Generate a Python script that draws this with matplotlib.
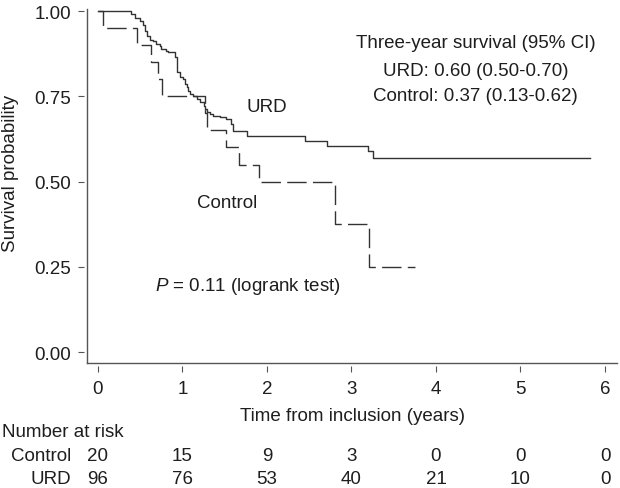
import matplotlib
matplotlib.use("Agg")
import matplotlib.pyplot as plt
from matplotlib.transforms import blended_transform_factory

plt.rcParams["font.family"] = ["Liberation Sans", "DejaVu Sans"]
plt.rcParams["mathtext.fontset"] = "custom"
plt.rcParams["mathtext.it"] = "Liberation Sans:italic"
plt.rcParams["mathtext.rm"] = "Liberation Sans"

# Kaplan-Meier steps (time in years, survival after the step)
urd_time = [0.00, 0.39, 0.44, 0.50, 0.53, 0.56, 0.58, 0.62, 0.65, 0.69,
            0.73, 0.75, 0.81, 0.83, 0.91, 0.93, 0.94, 0.97, 1.01, 1.03,
            1.05, 1.07, 1.09, 1.13, 1.17, 1.21, 1.25, 1.27, 1.29, 1.33,
            1.36, 1.44, 1.52, 1.58, 1.60, 1.76, 2.45, 2.71, 3.19, 3.26]
urd_surv = [1.000, 0.990, 0.980, 0.970, 0.960, 0.942, 0.928, 0.916, 0.913, 0.903,
            0.898, 0.889, 0.884, 0.879, 0.864, 0.840, 0.820, 0.806, 0.801, 0.786,
            0.776, 0.766, 0.757, 0.752, 0.742, 0.732, 0.722, 0.713, 0.703, 0.698,
            0.693, 0.688, 0.683, 0.669, 0.649, 0.633, 0.620, 0.605, 0.589, 0.568]
urd_end = 5.82

ctrl_time = [0.00, 0.055, 0.46, 0.63, 0.71, 0.76, 1.27, 1.29, 1.52, 1.67, 1.90, 2.80, 3.21]
ctrl_surv = [1.00, 0.95, 0.90, 0.85, 0.80, 0.75, 0.70, 0.65, 0.60, 0.55, 0.50, 0.375, 0.25]
ctrl_end = 3.75

risk_times = [0, 1, 2, 3, 4, 5, 6]
risk_ctrl = [20, 15, 9, 3, 0, 0, 0]
risk_urd = [96, 76, 53, 40, 21, 10, 0]

line_col = "#333333"
axis_col = "#555555"
text_col = "#1e1e1e"
fs = 13.5

fig = plt.figure(figsize=(6.2, 4.89), dpi=100)
ax = fig.add_axes([87 / 620, 125 / 489, 530 / 620, 354 / 489])

ax.step(urd_time + [urd_end], urd_surv + [urd_surv[-1]], where="post",
        color=line_col, lw=1.0)
ax.step(ctrl_time + [ctrl_end], ctrl_surv + [ctrl_surv[-1]], where="post",
        color=line_col, lw=1.0, linestyle=(0, (14, 4.5)))

ax.set_xlim(-0.13, 6.142)
ax.set_ylim(-0.032, 1.006)
ax.set_xticks(risk_times)
ax.set_yticks([0, 0.25, 0.5, 0.75, 1.0])
ax.set_yticklabels(["0.00", "0.25", "0.50", "0.75", "1.00"])

for side in ["top", "right"]:
    ax.spines[side].set_visible(False)
for side in ["left", "bottom"]:
    ax.spines[side].set_position(("outward", 2.2))
    ax.spines[side].set_color("none")
ax.plot([0, 1], [0, 0], transform=ax.transAxes, color=axis_col, lw=1, clip_on=False)
ax.plot([0, 0], [0, 1], transform=ax.transAxes, color=axis_col, lw=1, clip_on=False)

ax.tick_params(length=4, width=0.8, color=axis_col, labelsize=fs, labelcolor=text_col)
ax.tick_params(axis="x", pad=6)
ax.tick_params(axis="y", pad=5)

ax.set_xlabel("Time from inclusion (years)", fontsize=fs, color=text_col)
ax.xaxis.set_label_coords(0.5, -0.147)
ax.xaxis.label.set_va("center")
ax.set_ylabel("Survival probability", fontsize=fs, color=text_col)
ax.yaxis.set_label_coords(-0.145, 0.537)
ax.yaxis.label.set_va("center")

ax.text(4.47, 0.909, "Three-year survival (95% CI)", ha="center", va="center",
        fontsize=fs, color=text_col)
ax.text(4.47, 0.827, "URD: 0.60 (0.50-0.70)", ha="center", va="center",
        fontsize=fs, color=text_col)
ax.text(4.47, 0.751, "Control: 0.37 (0.13-0.62)", ha="center", va="center",
        fontsize=fs, color=text_col)
ax.text(1.76, 0.721, "URD", ha="left", va="center", fontsize=fs, color=text_col)
ax.text(1.17, 0.44, "Control", ha="left", va="center", fontsize=fs, color=text_col)
ax.text(1.775, 0.194, r"$P$ = 0.11 (logrank test)", ha="center", va="center",
        fontsize=fs, color=text_col)

# number at risk table
tr = blended_transform_factory(ax.transData, fig.transFigure)
fig.text(0.003, (489 - 433) / 489, "Number at risk", ha="left", va="center",
         fontsize=fs, color=text_col)
fig.text(71 / 620, (489 - 457) / 489, "Control", ha="right", va="center",
         fontsize=fs, color=text_col)
fig.text(71 / 620, (489 - 480) / 489, "URD", ha="right", va="center",
         fontsize=fs, color=text_col)
for t, c, u in zip(risk_times, risk_ctrl, risk_urd):
    ax.text(t, (489 - 457) / 489, str(c), transform=tr, ha="center", va="center",
            fontsize=fs, color=text_col)
    ax.text(t, (489 - 480) / 489, str(u), transform=tr, ha="center", va="center",
            fontsize=fs, color=text_col)

fig.savefig("out.png", dpi=100)
